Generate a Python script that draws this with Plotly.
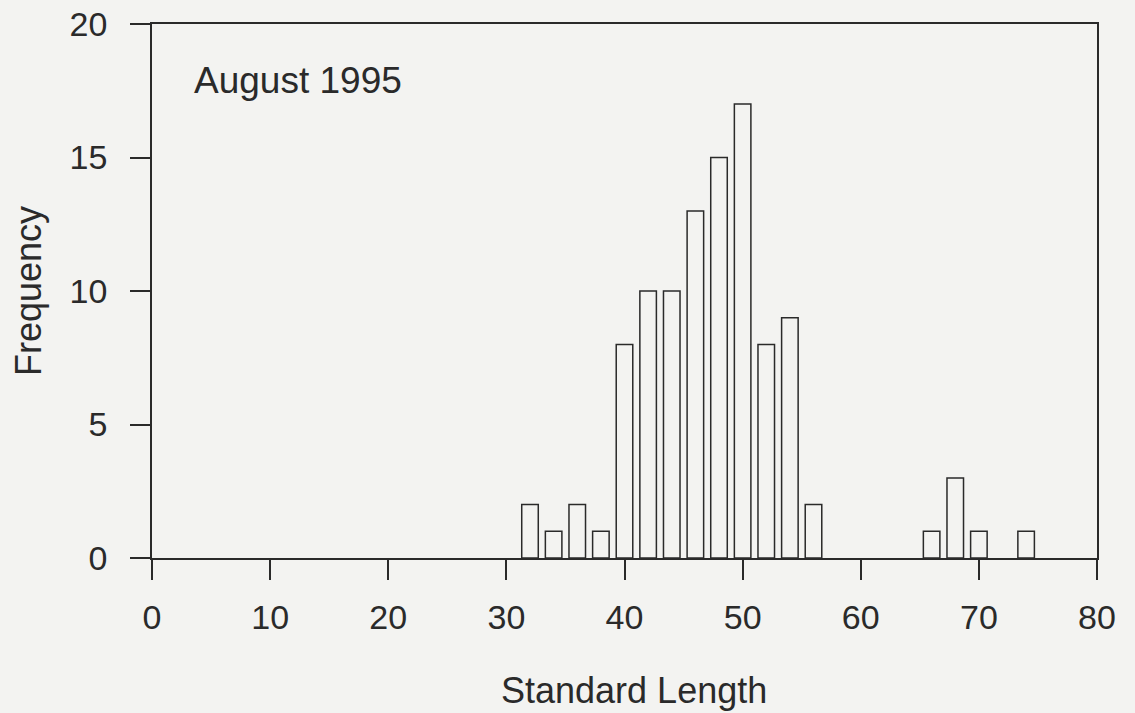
import plotly.graph_objects as go

lengths = [32, 34, 36, 38, 40, 42, 44, 46, 48, 50, 52, 54, 56, 66, 68, 70, 74]
frequency = [2, 1, 2, 1, 8, 10, 10, 13, 15, 17, 8, 9, 2, 1, 3, 1, 1]
x_ticks = [0, 10, 20, 30, 40, 50, 60, 70, 80]
y_ticks = [0, 5, 10, 15, 20]

bg = "#f3f3f1"
ink = "#2a2a2a"
font = "Liberation Sans, Arial, sans-serif"

fig = go.Figure(go.Bar(
    x=lengths, y=frequency, width=1.4,
    marker=dict(color=bg, line=dict(color=ink, width=1.5)),
))

fig.update_layout(
    width=1135, height=713,
    margin=dict(l=152, r=38, t=24, b=155, autoexpand=False),
    paper_bgcolor=bg, plot_bgcolor=bg,
    font=dict(family=font, size=34, color=ink),
    showlegend=False,
    annotations=[
        dict(text="August 1995", x=3.4, y=17.9, xref="x", yref="y",
             xanchor="left", yanchor="middle", showarrow=False,
             font=dict(size=37)),
        dict(text="Standard Length", x=0.51, y=0, xref="paper", yref="paper",
             yshift=-132, xanchor="center", yanchor="middle", showarrow=False,
             font=dict(size=36)),
        dict(text="Frequency", x=0, y=0.5, xref="paper", yref="paper",
             xshift=-124, xanchor="center", yanchor="middle", showarrow=False,
             textangle=-90, font=dict(size=36)),
    ],
)
fig.update_xaxes(
    range=[0, 80], tickvals=x_ticks, ticks="outside", ticklen=20, tickwidth=1.5,
    tickcolor=ink, showline=True, linecolor=ink, linewidth=1.5, mirror=True,
    showgrid=False, zeroline=False, ticklabelstandoff=8, automargin=False,
)
fig.update_yaxes(
    range=[0, 20], tickvals=y_ticks, ticks="outside", ticklen=20, tickwidth=1.5,
    tickcolor=ink, showline=True, linecolor=ink, linewidth=1.5, mirror=True,
    showgrid=False, zeroline=False, ticklabelstandoff=16, automargin=False,
)

fig.write_html(
    "out.html",
    config={"displayModeBar": False},
    post_script="document.body.style.margin='0';document.body.style.background='%s';" % bg,
)
